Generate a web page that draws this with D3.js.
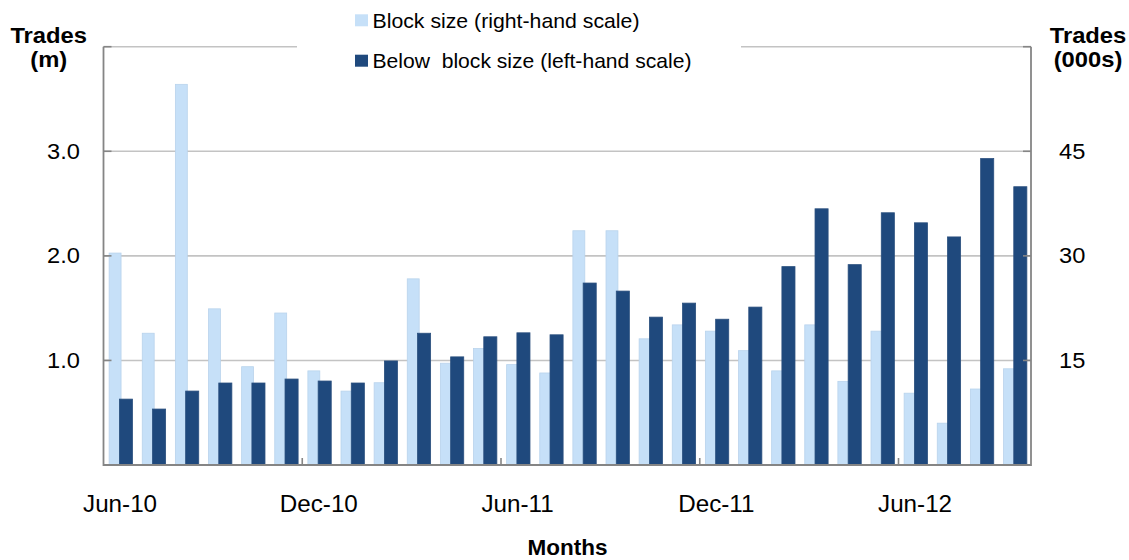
<!DOCTYPE html>
<html>
<head>
<meta charset="utf-8">
<script src="https://cdn.jsdelivr.net/npm/d3@7"></script>
<style>
  html, body { margin: 0; padding: 0; background: #fff; }
  svg { display: block; font-family: "Liberation Sans", Arial, sans-serif; }
</style>
</head>
<body>
<svg id="chart" width="1129" height="560"></svg>
<script>
const months = ["Jun-10","Jul-10","Aug-10","Sep-10","Oct-10","Nov-10","Dec-10","Jan-11","Feb-11","Mar-11","Apr-11","May-11",
  "Jun-11","Jul-11","Aug-11","Sep-11","Oct-11","Nov-11","Dec-11","Jan-12","Feb-12","Mar-12","Apr-12","May-12",
  "Jun-12","Jul-12","Aug-12","Sep-12"];
// Block size trades (000s), right-hand scale
const blockSize = [30.4, 18.9, 54.6, 22.4, 14.1, 21.8, 13.5, 10.6, 11.8, 26.7,
  14.6, 16.7, 14.4, 13.2, 33.6, 33.6, 18.1, 20.1, 19.2, 16.4,
  13.5, 20.1, 12.0, 19.2, 10.3, 6.0, 10.9, 13.8];
// Below block size trades (m), left-hand scale
const belowBlock = [0.63, 0.535, 0.707, 0.784, 0.784, 0.822, 0.803, 0.784, 0.995, 1.26,
  1.034, 1.226, 1.264, 1.245, 1.74, 1.663, 1.414, 1.548, 1.394, 1.51,
  1.897, 2.45, 1.916, 2.412, 2.316, 2.181, 2.93, 2.661];
const leftTicks = [1, 2, 3];
const rightTicks = [15, 30, 45];
const xLabels = ["Jun-10","Dec-10","Jun-11","Dec-11","Jun-12"];
const xTickBoundaries = ["Dec-10","Jun-11","Dec-11","Jun-12"];
const legendItems = ["Block size (right-hand scale)", "Below  block size (left-hand scale)"];

const svg = d3.select("#chart");
const L = 103.5, R = 1031, T = 46.7, B = 465;
const x = d3.scaleBand().domain(months).range([L, R]).paddingInner(0).paddingOuter(0);
const yL = d3.scaleLinear().domain([0, 4]).range([B, T]);
const yR = d3.scaleLinear().domain([0, 60]).range([B, T]);

const lightFill = "#C6E0F8", lightStroke = "#B9D3EC";
const darkFill = "#1F497D", darkStroke = "#2A4F7E";
const gridCol = "#C3C3C3", axisCol = "#858585";

// gridlines (including top)
svg.append("g").selectAll("line").data([1, 2, 3, 4]).join("line")
  .attr("x1", L).attr("x2", R)
  .attr("y1", d => yL(d)).attr("y2", d => yL(d))
  .attr("stroke", gridCol).attr("stroke-width", 1.6);

// bars
const bw = x.bandwidth();
svg.append("g").selectAll("rect").data(months).join("rect")
  .attr("x", d => x(d) + bw * 0.17)
  .attr("width", bw * 0.36)
  .attr("y", (d, i) => yR(blockSize[i]))
  .attr("height", (d, i) => B - yR(blockSize[i]))
  .attr("fill", lightFill).attr("stroke", lightStroke).attr("stroke-width", 0.8);
svg.append("g").selectAll("rect").data(months).join("rect")
  .attr("x", d => x(d) + bw * 0.48)
  .attr("width", bw * 0.395)
  .attr("y", (d, i) => yL(belowBlock[i]))
  .attr("height", (d, i) => B - yL(belowBlock[i]))
  .attr("fill", darkFill).attr("stroke", darkStroke).attr("stroke-width", 0.8);

// axis lines
svg.append("line").attr("x1", L).attr("x2", L).attr("y1", T).attr("y2", B + 1)
  .attr("stroke", axisCol).attr("stroke-width", 1.8);
svg.append("line").attr("x1", R).attr("x2", R).attr("y1", T).attr("y2", B + 1)
  .attr("stroke", axisCol).attr("stroke-width", 1.8);
svg.append("line").attr("x1", L).attr("x2", R).attr("y1", B).attr("y2", B)
  .attr("stroke", axisCol).attr("stroke-width", 1.8);

// inward tick marks
svg.append("g").selectAll("line").data([1, 2, 3, 4]).join("line")
  .attr("x1", L).attr("x2", L + 8).attr("y1", d => yL(d)).attr("y2", d => yL(d))
  .attr("stroke", axisCol).attr("stroke-width", 1.6);
svg.append("g").selectAll("line").data([15, 30, 45, 60]).join("line")
  .attr("x1", R - 8).attr("x2", R).attr("y1", d => yR(d)).attr("y2", d => yR(d))
  .attr("stroke", axisCol).attr("stroke-width", 1.6);
svg.append("g").selectAll("line").data(xTickBoundaries).join("line")
  .attr("x1", d => x(d)).attr("x2", d => x(d)).attr("y1", B - 7).attr("y2", B)
  .attr("stroke", axisCol).attr("stroke-width", 1.6);

// helper to stretch text to a measured width (reference glyphs are slightly wide)
function fit(sel, factor) {
  sel.each(function() {
    const w = this.getComputedTextLength();
    d3.select(this).attr("textLength", w * factor).attr("lengthAdjust", "spacingAndGlyphs");
  });
}

// tick labels
svg.append("g").selectAll("text").data(leftTicks).join("text")
  .attr("x", 80).attr("y", d => yL(d) + 7.5)
  .attr("text-anchor", "end").attr("font-size", 21.5).attr("fill", "#000")
  .text(d => d3.format(".1f")(d)).call(fit, 1.1);
svg.append("g").selectAll("text").data(rightTicks).join("text")
  .attr("x", 1059).attr("y", d => yR(d) + 7.5)
  .attr("text-anchor", "start").attr("font-size", 21.5).attr("fill", "#000")
  .text(d => d).call(fit, 1.1);
svg.append("g").selectAll("text").data(xLabels).join("text")
  .attr("x", d => x(d) + bw / 2).attr("y", 511.5)
  .attr("text-anchor", "middle").attr("font-size", 23.5).attr("fill", "#000")
  .text(d => d).call(fit, 1.03);

// axis titles
function title(cx, lines) {
  const t = svg.append("text").attr("text-anchor", "middle").attr("font-size", 22)
    .attr("font-weight", "bold").attr("fill", "#000");
  lines.forEach((s, i) => {
    t.append("text").remove();
    svg.append("text").attr("text-anchor", "middle").attr("font-size", 22)
      .attr("font-weight", "bold").attr("fill", "#000")
      .attr("x", cx).attr("y", 42.5 + i * 24.5).text(s).call(fit, 1.08);
  });
  t.remove();
}
title(48.7, ["Trades", "(m)"]);
title(1088, ["Trades", "(000s)"]);
svg.append("text").attr("x", 567.5).attr("y", 555).attr("text-anchor", "middle")
  .attr("font-size", 22.5).attr("font-weight", "bold").attr("fill", "#000").text("Months");

// legend (white box covers top gridline)
const lg = svg.append("g");
lg.append("rect").attr("x", 297).attr("y", 0).attr("width", 444).attr("height", 80).attr("fill", "#fff");
const legendColors = [lightFill, darkFill];
const legendWidths = [267, 319];
const legendBase = [27.8, 68.2];
legendItems.forEach((t, i) => {
  lg.append("rect").attr("x", 355).attr("y", legendBase[i] - 13.5).attr("width", 13).attr("height", 12)
    .attr("fill", legendColors[i]);
  lg.append("text").attr("x", 372.5).attr("y", legendBase[i]).attr("font-size", 21)
    .attr("fill", "#000").attr("xml:space", "preserve").style("white-space", "pre")
    .attr("textLength", legendWidths[i]).attr("lengthAdjust", "spacingAndGlyphs")
    .text(t);
});
</script>
</body>
</html>
